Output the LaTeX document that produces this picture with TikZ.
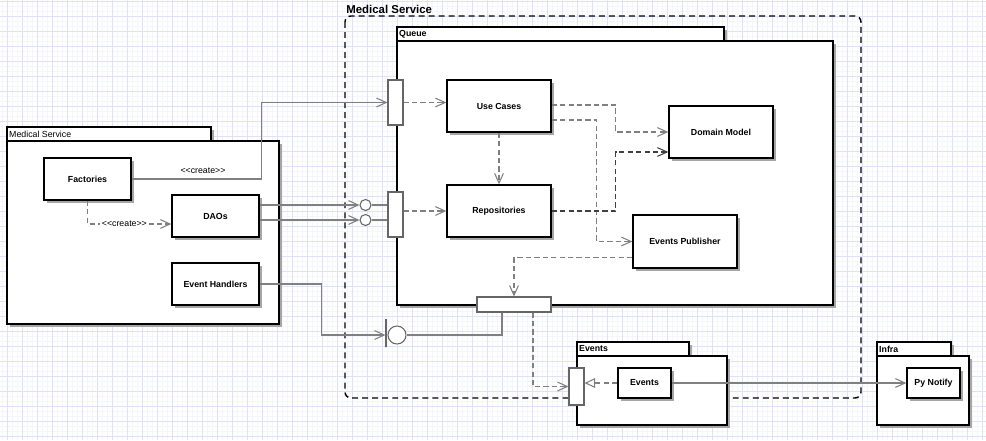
\documentclass[tikz,border=0pt]{standalone}
\usepackage{fontspec}
\setmainfont{Liberation Sans}
\usepackage{tikz}
\usetikzlibrary{arrows.meta,calc,shadows}

\definecolor{gridmaj}{RGB}{224,224,248}
\definecolor{gridmin}{RGB}{245,245,252}
\definecolor{linegray}{RGB}{128,128,128}

% package: name, left, top, tab right, body right, bottom, label
\newcommand{\drawpackage}[7]{
    \fill[black!35] (#2+3,#3+3) rectangle (#4+3,#3+17);
    \fill[black!35] (#2+3,#3+17) rectangle (#5+3,#6+3);
    \draw[line width=0.8pt, fill=white] (#2,#3) rectangle (#4,#3+14);
    \draw[line width=0.8pt, fill=white] (#2,#3+14) rectangle (#5,#6);
    \node[pkglabel] (#1) at (#2+1,#3+7) {#7};
}

\begin{document}
\begin{tikzpicture}[x=0.02cm, y=-0.02cm,
    pkglabel/.style={anchor=west, inner sep=0.5pt, font=\fontsize{5}{6}\selectfont},
    comp/.style={draw, line width=0.8pt, fill=white, inner sep=0pt,
        font=\bfseries\fontsize{5}{6}\selectfont,
        drop shadow={shadow xshift=0.06cm, shadow yshift=-0.06cm, opacity=1, fill=black!35}},
    port/.style={draw=black!60, line width=0.6pt, fill=white, inner sep=0pt},
    wire/.style={draw=linegray, line width=0.7pt},
    dashwire/.style={wire, dash pattern=on 3pt off 1.8pt},
    openarrow/.style={-{Straight Barb[length=5.5pt,width=5pt,line width=0.6pt]}},
    lbl/.style={inner sep=1pt, font=\fontsize{5}{6}\selectfont}]
    \useasboundingbox (0,0) rectangle (986,440);

    % Drawing the grid
    \fill[white] (0,0) rectangle (986,440);
    \foreach \gx in {2,7,...,986}{
        \draw[gridmin, line width=0.5pt] (\gx,0) -- (\gx,440);
    }
    \foreach \gy in {1,6,...,440}{
        \draw[gridmin, line width=0.5pt] (0,\gy) -- (986,\gy);
    }
    \foreach \gx in {7,22,...,986}{
        \draw[gridmaj, line width=0.5pt] (\gx,0) -- (\gx,440);
    }
    \foreach \gy in {1,16,...,440}{
        \draw[gridmaj, line width=0.5pt] (0,\gy) -- (986,\gy);
    }

    % Drawing the service boundary
    \draw[line width=0.8pt, dash pattern=on 3.4pt off 2.3pt, rounded corners=0.12cm] (345,16) rectangle (861,398);
    \node[anchor=west, inner sep=0pt, font=\bfseries\fontsize{6.5}{7}\selectfont] (svctitle) at (346,9) {Medical Service};

    % Drawing the packages
    \drawpackage{pkgms}{7}{127}{211}{279}{324}{Medical Service}
    \drawpackage{pkgqueue}{397}{27}{724}{833}{305}{\bfseries Queue}
    \drawpackage{pkgevents}{577}{342}{689}{727}{425}{\bfseries Events}
    \drawpackage{pkginfra}{877}{342}{951}{969}{425}{\bfseries Infra}

    % components
    \node[comp, minimum width=1.74cm, minimum height=0.84cm] (factories) at (87.5,179) {Factories};
    \node[comp, minimum width=1.74cm, minimum height=0.84cm] (daos) at (215.5,216) {DAOs};
    \node[comp, minimum width=1.74cm, minimum height=0.84cm] (handlers) at (215.5,284) {Event Handlers};

    \node[comp, minimum width=2.08cm, minimum height=1.04cm] (usecases) at (499,106) {Use Cases};
    \node[comp, minimum width=2.08cm, minimum height=1.04cm] (repos) at (499,211) {Repositories};
    \node[comp, minimum width=2.08cm, minimum height=1.04cm] (domain) at (721,132) {Domain Model};
    \node[comp, minimum width=2.08cm, minimum height=1.06cm] (evpub) at (685,241.5) {Events Publisher};

    \node[comp, minimum width=1.06cm, minimum height=0.6cm] (events) at (644.5,383) {Events};
    \node[comp, minimum width=1.06cm, minimum height=0.6cm] (pynotify) at (933.5,383) {Py Notify};

    % ports
    \node[port, minimum width=0.3cm, minimum height=0.9cm] (qport1) at (395.5,102.5) {};
    \node[port, minimum width=0.3cm, minimum height=0.9cm] (qport2) at (395.5,214.5) {};
    \node[port, minimum width=1.48cm, minimum height=0.3cm] (qportB) at (514,304.5) {};
    \node[port, minimum width=0.3cm, minimum height=0.74cm] (evport) at (576.5,386.5) {};

    \node[port, circle, minimum size=0.22cm] (lolA) at (365.5,205) {};
    \node[port, circle, minimum size=0.22cm] (lolB) at (365.5,220) {};
    \node[port, circle, minimum size=0.36cm] (evsock) at (397,335) {};
    \node[port, minimum width=0pt, minimum height=0.56cm] (sockbar) at (386,333) {};

    % connectors on the left
    \draw[wire, openarrow] (factories.east) -- ++(130,0) |- (qport1.west);
    \node[lbl] (createA) at (203,171) {<\kern0pt<create>\kern0pt>};
    \draw[dashwire, openarrow] (factories.south) |- node[lbl, pos=0.72, fill=white] (createB) {<\kern0pt<create>\kern0pt>} ($(daos.west)+(0,8)$);

    \draw[wire, openarrow] ($(daos.east)+(0,-11)$) -- (lolA.west);
    \draw[wire, openarrow] ($(daos.east)+(0,4)$) -- (lolB.west);
    \draw[wire] (lolA.east) -- (lolA.east -| qport2.west);
    \draw[wire] (lolB.east) -- (lolB.east -| qport2.west);

    \draw[wire, openarrow] (handlers.east) -- ++(62,0) |- (sockbar.west |- evsock.center);
    \draw[wire] ($(qportB.south)+(-12,0)$) |- (evsock.east);

    % connectors inside the queue
    \draw[dashwire, openarrow] (qport1.east) -- (qport1.east -| usecases.west);
    \draw[dashwire, openarrow] (repos.west -| qport2.east) -- (repos.west);
    \draw[dashwire, openarrow] (usecases.south) -- (repos.north);
    \draw[dashwire, openarrow] ($(usecases.east)+(0,-1)$) -- ++(64,0) |- (domain.west);
    \draw[dashwire, openarrow] ($(usecases.east)+(0,14)$) -- ++(45,0) |- (evpub.west);
    \draw[dashwire, draw=black!75, line width=0.6pt, openarrow] (repos.east) -- ++(64,0) |- ($(domain.west)+(0,20)$);
    \draw[dashwire, openarrow] ($(evpub.west)+(0,16)$) -| (qportB.north);

    % connectors to events and infra
    \draw[dashwire, openarrow] ($(qportB.south)+(19,0)$) |- (evport.west);
    \draw[dashwire, -{Triangle[open, length=6pt, width=5.5pt, line width=0.6pt]}] (events.west) -- (evport.east |- events.west);
    \draw[wire, openarrow] (events.east) -- (pynotify.west);
\end{tikzpicture}
\end{document}
